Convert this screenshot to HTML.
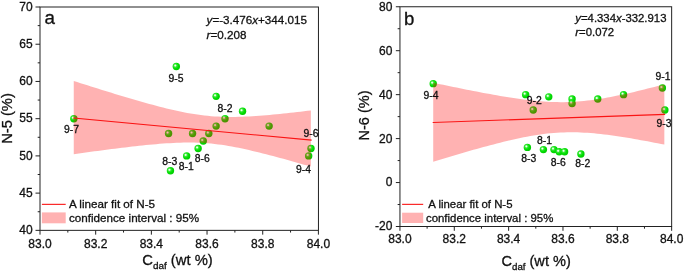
<!DOCTYPE html>
<html><head><meta charset="utf-8"><title>Figure</title>
<style>html,body{margin:0;padding:0;background:#fff;}svg{display:block}</style></head>
<body>
<svg width="685" height="271" viewBox="0 0 685 271" style="display:block;will-change:transform">
<defs>
<radialGradient id="g" cx="0.37" cy="0.37" r="0.67" fx="0.36" fy="0.36">
<stop offset="0" stop-color="#ffffff"/>
<stop offset="0.13" stop-color="#d4fcd4"/>
<stop offset="0.30" stop-color="#38ea38"/>
<stop offset="0.6" stop-color="#04de04"/>
<stop offset="1" stop-color="#00ca00"/>
</radialGradient>
</defs>
<rect width="685" height="271" fill="#fff"/>
<circle cx="73.85" cy="118.68" r="3.7" fill="url(#g)"/>
<circle cx="176.33" cy="66.56" r="3.7" fill="url(#g)"/>
<circle cx="216.14" cy="96.34" r="3.7" fill="url(#g)"/>
<circle cx="242.54" cy="111.23" r="3.7" fill="url(#g)"/>
<circle cx="225.02" cy="118.68" r="3.7" fill="url(#g)"/>
<circle cx="216.14" cy="126.12" r="3.7" fill="url(#g)"/>
<circle cx="168.57" cy="133.56" r="3.7" fill="url(#g)"/>
<circle cx="192.56" cy="133.56" r="3.7" fill="url(#g)"/>
<circle cx="208.82" cy="133.56" r="3.7" fill="url(#g)"/>
<circle cx="203.25" cy="141.01" r="3.7" fill="url(#g)"/>
<circle cx="198.13" cy="148.46" r="3.7" fill="url(#g)"/>
<circle cx="186.66" cy="155.90" r="3.7" fill="url(#g)"/>
<circle cx="170.46" cy="170.79" r="3.7" fill="url(#g)"/>
<circle cx="269.12" cy="126.12" r="3.7" fill="url(#g)"/>
<circle cx="310.99" cy="148.46" r="3.7" fill="url(#g)"/>
<circle cx="308.66" cy="155.90" r="3.7" fill="url(#g)"/>
<path d="M73.75,80.97 L77.19,82.07 L80.62,83.16 L84.06,84.25 L87.49,85.34 L90.93,86.43 L94.37,87.51 L97.80,88.59 L101.24,89.66 L104.68,90.73 L108.11,91.79 L111.55,92.85 L114.98,93.90 L118.42,94.95 L121.86,95.99 L125.29,97.02 L128.73,98.04 L132.17,99.05 L135.60,100.05 L139.04,101.04 L142.47,102.02 L145.91,102.99 L149.35,103.94 L152.78,104.87 L156.22,105.79 L159.66,106.68 L163.09,107.56 L166.53,108.41 L169.96,109.24 L173.40,110.03 L176.84,110.80 L180.27,111.53 L183.71,112.22 L187.15,112.88 L190.58,113.49 L194.02,114.05 L197.45,114.57 L200.89,115.04 L204.33,115.46 L207.76,115.82 L211.20,116.13 L214.64,116.38 L218.07,116.59 L221.51,116.74 L224.94,116.84 L228.38,116.90 L231.82,116.91 L235.25,116.88 L238.69,116.81 L242.13,116.71 L245.56,116.57 L249.00,116.40 L252.43,116.21 L255.87,115.99 L259.31,115.75 L262.74,115.48 L266.18,115.20 L269.62,114.90 L273.05,114.59 L276.49,114.26 L279.92,113.92 L283.36,113.56 L286.80,113.20 L290.23,112.83 L293.67,112.44 L297.11,112.05 L300.54,111.65 L303.98,111.25 L307.41,110.84 L310.85,110.42 L310.85,166.61 L307.41,165.62 L303.98,164.63 L300.54,163.65 L297.11,162.68 L293.67,161.71 L290.23,160.75 L286.80,159.80 L283.36,158.85 L279.92,157.92 L276.49,156.99 L273.05,156.07 L269.62,155.17 L266.18,154.28 L262.74,153.41 L259.31,152.55 L255.87,151.71 L252.43,150.89 L249.00,150.10 L245.56,149.32 L242.13,148.58 L238.69,147.86 L235.25,147.18 L231.82,146.54 L228.38,145.93 L224.94,145.37 L221.51,144.85 L218.07,144.39 L214.64,143.97 L211.20,143.60 L207.76,143.29 L204.33,143.04 L200.89,142.83 L197.45,142.69 L194.02,142.59 L190.58,142.54 L187.15,142.54 L183.71,142.59 L180.27,142.67 L176.84,142.79 L173.40,142.95 L169.96,143.14 L166.53,143.36 L163.09,143.60 L159.66,143.86 L156.22,144.15 L152.78,144.46 L149.35,144.78 L145.91,145.12 L142.47,145.48 L139.04,145.84 L135.60,146.22 L132.17,146.61 L128.73,147.01 L125.29,147.41 L121.86,147.83 L118.42,148.25 L114.98,148.68 L111.55,149.11 L108.11,149.55 L104.68,150.00 L101.24,150.45 L97.80,150.90 L94.37,151.36 L90.93,151.82 L87.49,152.28 L84.06,152.75 L80.62,153.22 L77.19,153.70 L73.75,154.18Z" fill="#ff0000" fill-opacity="0.3"/>
<line x1="73.75" y1="118.04" x2="311.15" y2="140.08" stroke="#fa1414" stroke-width="1.05" stroke-linecap="square"/>
<rect x="40.0" y="7.0" width="278.45" height="223.35" fill="none" stroke="#222" stroke-width="1"/>
<line x1="40.00" y1="230.35" x2="40.00" y2="234.65" stroke="#222" stroke-width="1"/>
<line x1="67.84" y1="230.35" x2="67.84" y2="232.54999999999998" stroke="#222" stroke-width="1"/>
<line x1="95.68" y1="230.35" x2="95.68" y2="234.65" stroke="#222" stroke-width="1"/>
<line x1="123.52" y1="230.35" x2="123.52" y2="232.54999999999998" stroke="#222" stroke-width="1"/>
<line x1="151.36" y1="230.35" x2="151.36" y2="234.65" stroke="#222" stroke-width="1"/>
<line x1="179.20" y1="230.35" x2="179.20" y2="232.54999999999998" stroke="#222" stroke-width="1"/>
<line x1="207.04" y1="230.35" x2="207.04" y2="234.65" stroke="#222" stroke-width="1"/>
<line x1="234.88" y1="230.35" x2="234.88" y2="232.54999999999998" stroke="#222" stroke-width="1"/>
<line x1="262.72" y1="230.35" x2="262.72" y2="234.65" stroke="#222" stroke-width="1"/>
<line x1="290.56" y1="230.35" x2="290.56" y2="232.54999999999998" stroke="#222" stroke-width="1"/>
<line x1="318.40" y1="230.35" x2="318.40" y2="234.65" stroke="#222" stroke-width="1"/>
<line x1="35.5" y1="7.00" x2="40.0" y2="7.00" stroke="#222" stroke-width="1"/>
<line x1="35.5" y1="44.23" x2="40.0" y2="44.23" stroke="#222" stroke-width="1"/>
<line x1="35.5" y1="81.45" x2="40.0" y2="81.45" stroke="#222" stroke-width="1"/>
<line x1="35.5" y1="118.68" x2="40.0" y2="118.68" stroke="#222" stroke-width="1"/>
<line x1="35.5" y1="155.90" x2="40.0" y2="155.90" stroke="#222" stroke-width="1"/>
<line x1="35.5" y1="193.12" x2="40.0" y2="193.12" stroke="#222" stroke-width="1"/>
<line x1="35.5" y1="230.35" x2="40.0" y2="230.35" stroke="#222" stroke-width="1"/>
<line x1="37.7" y1="25.61" x2="40.0" y2="25.61" stroke="#222" stroke-width="1"/>
<line x1="37.7" y1="62.84" x2="40.0" y2="62.84" stroke="#222" stroke-width="1"/>
<line x1="37.7" y1="100.06" x2="40.0" y2="100.06" stroke="#222" stroke-width="1"/>
<line x1="37.7" y1="137.29" x2="40.0" y2="137.29" stroke="#222" stroke-width="1"/>
<line x1="37.7" y1="174.51" x2="40.0" y2="174.51" stroke="#222" stroke-width="1"/>
<line x1="37.7" y1="211.74" x2="40.0" y2="211.74" stroke="#222" stroke-width="1"/>
<circle cx="433.21" cy="83.66" r="3.7" fill="url(#g)"/>
<circle cx="525.64" cy="94.65" r="3.7" fill="url(#g)"/>
<circle cx="533.25" cy="110.03" r="3.7" fill="url(#g)"/>
<circle cx="548.76" cy="96.85" r="3.7" fill="url(#g)"/>
<circle cx="572.07" cy="99.04" r="3.7" fill="url(#g)"/>
<circle cx="572.07" cy="103.44" r="3.7" fill="url(#g)"/>
<circle cx="597.75" cy="99.04" r="3.7" fill="url(#g)"/>
<circle cx="623.56" cy="94.65" r="3.7" fill="url(#g)"/>
<circle cx="662.39" cy="88.06" r="3.7" fill="url(#g)"/>
<circle cx="664.86" cy="110.03" r="3.7" fill="url(#g)"/>
<circle cx="527.38" cy="147.39" r="3.7" fill="url(#g)"/>
<circle cx="543.41" cy="149.59" r="3.7" fill="url(#g)"/>
<circle cx="554.00" cy="149.59" r="3.7" fill="url(#g)"/>
<circle cx="559.17" cy="151.78" r="3.7" fill="url(#g)"/>
<circle cx="564.60" cy="151.78" r="3.7" fill="url(#g)"/>
<circle cx="580.90" cy="153.98" r="3.7" fill="url(#g)"/>
<path d="M433.20,82.74 L436.55,83.45 L439.90,84.16 L443.25,84.86 L446.60,85.56 L449.95,86.25 L453.30,86.94 L456.65,87.62 L460.00,88.30 L463.35,88.98 L466.70,89.64 L470.05,90.31 L473.40,90.96 L476.75,91.61 L480.10,92.25 L483.45,92.88 L486.80,93.50 L490.15,94.11 L493.50,94.71 L496.85,95.30 L500.20,95.88 L503.55,96.44 L506.90,96.98 L510.25,97.51 L513.60,98.03 L516.95,98.52 L520.30,98.99 L523.65,99.44 L527.00,99.86 L530.35,100.25 L533.70,100.62 L537.05,100.95 L540.40,101.24 L543.75,101.50 L547.10,101.72 L550.45,101.90 L553.80,102.03 L557.15,102.12 L560.50,102.15 L563.85,102.14 L567.20,102.07 L570.55,101.96 L573.90,101.79 L577.25,101.57 L580.60,101.30 L583.95,100.98 L587.30,100.62 L590.65,100.21 L594.00,99.76 L597.35,99.27 L600.70,98.74 L604.05,98.17 L607.40,97.57 L610.75,96.95 L614.10,96.29 L617.45,95.61 L620.80,94.90 L624.15,94.18 L627.50,93.43 L630.85,92.67 L634.20,91.89 L637.55,91.09 L640.90,90.28 L644.25,89.46 L647.60,88.62 L650.95,87.78 L654.30,86.92 L657.65,86.06 L661.00,85.18 L664.35,84.30 L664.35,144.59 L661.00,143.93 L657.65,143.28 L654.30,142.63 L650.95,141.99 L647.60,141.36 L644.25,140.74 L640.90,140.13 L637.55,139.53 L634.20,138.95 L630.85,138.37 L627.50,137.82 L624.15,137.27 L620.80,136.75 L617.45,136.24 L614.10,135.75 L610.75,135.29 L607.40,134.85 L604.05,134.43 L600.70,134.05 L597.35,133.69 L594.00,133.37 L590.65,133.08 L587.30,132.84 L583.95,132.63 L580.60,132.47 L577.25,132.35 L573.90,132.28 L570.55,132.26 L567.20,132.30 L563.85,132.38 L560.50,132.52 L557.15,132.72 L553.80,132.97 L550.45,133.27 L547.10,133.62 L543.75,134.02 L540.40,134.47 L537.05,134.97 L533.70,135.50 L530.35,136.08 L527.00,136.70 L523.65,137.35 L520.30,138.03 L516.95,138.74 L513.60,139.49 L510.25,140.25 L506.90,141.04 L503.55,141.85 L500.20,142.68 L496.85,143.53 L493.50,144.40 L490.15,145.28 L486.80,146.17 L483.45,147.08 L480.10,148.00 L476.75,148.93 L473.40,149.87 L470.05,150.82 L466.70,151.78 L463.35,152.74 L460.00,153.72 L456.65,154.70 L453.30,155.68 L449.95,156.68 L446.60,157.67 L443.25,158.68 L439.90,159.69 L436.55,160.70 L433.20,161.72Z" fill="#ff0000" fill-opacity="0.3"/>
<line x1="433.20" y1="122.47" x2="664.65" y2="114.37" stroke="#fa1414" stroke-width="1.05" stroke-linecap="square"/>
<rect x="399.95" y="6.75" width="271.7" height="219.75" fill="none" stroke="#222" stroke-width="1"/>
<line x1="399.95" y1="226.5" x2="399.95" y2="230.8" stroke="#222" stroke-width="1"/>
<line x1="427.12" y1="226.5" x2="427.12" y2="228.7" stroke="#222" stroke-width="1"/>
<line x1="454.29" y1="226.5" x2="454.29" y2="230.8" stroke="#222" stroke-width="1"/>
<line x1="481.46" y1="226.5" x2="481.46" y2="228.7" stroke="#222" stroke-width="1"/>
<line x1="508.63" y1="226.5" x2="508.63" y2="230.8" stroke="#222" stroke-width="1"/>
<line x1="535.80" y1="226.5" x2="535.80" y2="228.7" stroke="#222" stroke-width="1"/>
<line x1="562.97" y1="226.5" x2="562.97" y2="230.8" stroke="#222" stroke-width="1"/>
<line x1="590.14" y1="226.5" x2="590.14" y2="228.7" stroke="#222" stroke-width="1"/>
<line x1="617.31" y1="226.5" x2="617.31" y2="230.8" stroke="#222" stroke-width="1"/>
<line x1="644.48" y1="226.5" x2="644.48" y2="228.7" stroke="#222" stroke-width="1"/>
<line x1="671.65" y1="226.5" x2="671.65" y2="230.8" stroke="#222" stroke-width="1"/>
<line x1="395.84999999999997" y1="6.75" x2="399.95" y2="6.75" stroke="#222" stroke-width="1"/>
<line x1="395.84999999999997" y1="50.70" x2="399.95" y2="50.70" stroke="#222" stroke-width="1"/>
<line x1="395.84999999999997" y1="94.65" x2="399.95" y2="94.65" stroke="#222" stroke-width="1"/>
<line x1="395.84999999999997" y1="138.60" x2="399.95" y2="138.60" stroke="#222" stroke-width="1"/>
<line x1="395.84999999999997" y1="182.55" x2="399.95" y2="182.55" stroke="#222" stroke-width="1"/>
<line x1="395.84999999999997" y1="226.50" x2="399.95" y2="226.50" stroke="#222" stroke-width="1"/>
<line x1="397.65" y1="28.72" x2="399.95" y2="28.72" stroke="#222" stroke-width="1"/>
<line x1="397.65" y1="72.67" x2="399.95" y2="72.67" stroke="#222" stroke-width="1"/>
<line x1="397.65" y1="116.62" x2="399.95" y2="116.62" stroke="#222" stroke-width="1"/>
<line x1="397.65" y1="160.57" x2="399.95" y2="160.57" stroke="#222" stroke-width="1"/>
<line x1="397.65" y1="204.52" x2="399.95" y2="204.52" stroke="#222" stroke-width="1"/>
<line x1="41.9" y1="204.35" x2="65.7" y2="204.35" stroke="#fa1414" stroke-width="1.1"/>
<rect x="41.9" y="212.4" width="23.8" height="10.9" fill="#ff0000" fill-opacity="0.3"/>
<line x1="402.1" y1="204.35" x2="423.2" y2="204.35" stroke="#fa1414" stroke-width="1.1"/>
<rect x="402.1" y="212.7" width="21.1" height="10.3" fill="#ff0000" fill-opacity="0.3"/>
<g font-family="'Liberation Sans', Arial, sans-serif" fill="#111" stroke="#111" stroke-width="0.3">
<text x="32.6" y="10.6" font-size="12" text-anchor="end" >70</text>
<text x="32.6" y="47.83" font-size="12" text-anchor="end" >65</text>
<text x="32.6" y="85.05" font-size="12" text-anchor="end" >60</text>
<text x="32.6" y="122.28" font-size="12" text-anchor="end" >55</text>
<text x="32.6" y="159.5" font-size="12" text-anchor="end" >50</text>
<text x="32.6" y="196.72" font-size="12" text-anchor="end" >45</text>
<text x="32.6" y="233.95" font-size="12" text-anchor="end" >40</text>
<text x="40.0" y="247.5" font-size="12" text-anchor="middle" >83.0</text>
<text x="95.68" y="247.5" font-size="12" text-anchor="middle" >83.2</text>
<text x="151.36" y="247.5" font-size="12" text-anchor="middle" >83.4</text>
<text x="207.04" y="247.5" font-size="12" text-anchor="middle" >83.6</text>
<text x="262.72" y="247.5" font-size="12" text-anchor="middle" >83.8</text>
<text x="318.4" y="247.5" font-size="12" text-anchor="middle" >84.0</text>
<text x="392.4" y="10.65" font-size="12" text-anchor="end" >80</text>
<text x="392.4" y="54.6" font-size="12" text-anchor="end" >60</text>
<text x="392.4" y="98.55" font-size="12" text-anchor="end" >40</text>
<text x="392.4" y="142.5" font-size="12" text-anchor="end" >20</text>
<text x="392.4" y="186.45" font-size="12" text-anchor="end" >0</text>
<text x="392.4" y="230.4" font-size="12" text-anchor="end" >-20</text>
<text x="399.95" y="243.2" font-size="12" text-anchor="middle" >83.0</text>
<text x="454.29" y="243.2" font-size="12" text-anchor="middle" >83.2</text>
<text x="508.63" y="243.2" font-size="12" text-anchor="middle" >83.4</text>
<text x="562.97" y="243.2" font-size="12" text-anchor="middle" >83.6</text>
<text x="617.31" y="243.2" font-size="12" text-anchor="middle" >83.8</text>
<text x="671.65" y="243.2" font-size="12" text-anchor="middle" >84.0</text>
<text x="44.5" y="23.5" font-size="18.8" text-anchor="start" >a</text>
<text x="403.9" y="24.7" font-size="18.6" text-anchor="start" >b</text>
<text x="206.6" y="24.3" font-size="11.65" text-anchor="start" ><tspan font-style="italic">y</tspan>=-3.476<tspan font-style="italic">x</tspan>+344.015</text>
<text x="206.6" y="38.9" font-size="11.65" text-anchor="start" ><tspan font-style="italic">r</tspan>=0.208</text>
<text x="575.3" y="21.8" font-size="11.35" text-anchor="start" ><tspan font-style="italic">y</tspan>=4.334<tspan font-style="italic">x</tspan>-332.913</text>
<text x="575.3" y="36.25" font-size="11.35" text-anchor="start" ><tspan font-style="italic">r</tspan>=0.072</text>
<text x="69.0" y="208" font-size="11.65" text-anchor="start" >A linear fit of N-5</text>
<text x="69.0" y="222.4" font-size="11.65" text-anchor="start" >confidence interval : 95%</text>
<text x="428.3" y="208.0" font-size="11.4" text-anchor="start" >A linear fit of N-5</text>
<text x="426.0" y="221.9" font-size="11.4" text-anchor="start" >confidence interval : 95%</text>
<text x="142.3" y="264.9" font-size="14.8" text-anchor="start" >C<tspan font-size="9.9" dy="4">daf</tspan><tspan dy="-4"> (wt %)</tspan></text>
<text x="501.5" y="265.5" font-size="14.55" text-anchor="start" >C<tspan font-size="9.7" dy="4">daf</tspan><tspan dy="-4"> (wt %)</tspan></text>
<text transform="translate(12.3,143.8) rotate(-90)" font-size="14.7">N-5 (%)</text>
<text transform="translate(369.3,140.6) rotate(-90)" font-size="14.55">N-6 (%)</text>
<text x="217.5" y="112.2" font-size="10.4" text-anchor="start" >8-2</text>
<text x="168.4" y="81.6" font-size="10.4" text-anchor="start" >9-5</text>
<text x="63.9" y="132.9" font-size="10.4" text-anchor="start" >9-7</text>
<text x="162.2" y="165.25" font-size="10.4" text-anchor="start" >8-3</text>
<text x="178.8" y="169.85" font-size="10.4" text-anchor="start" >8-1</text>
<text x="194.8" y="161.55" font-size="10.4" text-anchor="start" >8-6</text>
<text x="303.5" y="136.5" font-size="10.4" text-anchor="start" >9-6</text>
<text x="295.9" y="172.8" font-size="10.4" text-anchor="start" >9-4</text>
<text x="423.5" y="98.7" font-size="10.4" text-anchor="start" >9-4</text>
<text x="526.85" y="103.5" font-size="10.4" text-anchor="start" >9-2</text>
<text x="655.6" y="80.2" font-size="10.4" text-anchor="start" >9-1</text>
<text x="656.6" y="126.8" font-size="10.4" text-anchor="start" >9-3</text>
<text x="536.9" y="144.2" font-size="10.4" text-anchor="start" >8-1</text>
<text x="521.2" y="162.3" font-size="10.4" text-anchor="start" >8-3</text>
<text x="550.8" y="166.4" font-size="10.4" text-anchor="start" >8-6</text>
<text x="575.3" y="167.0" font-size="10.4" text-anchor="start" >8-2</text>
</g>
</svg>
</body></html>
